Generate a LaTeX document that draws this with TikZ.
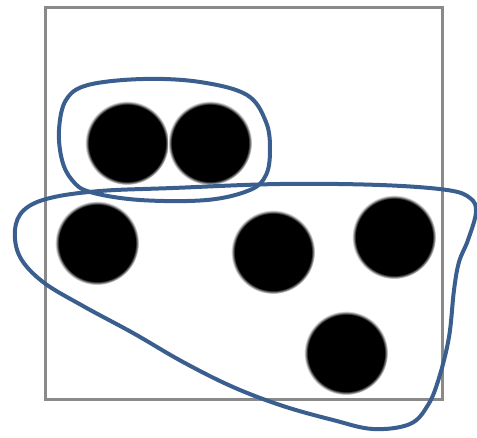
\documentclass[tikz,border=0pt]{standalone}
\usetikzlibrary{shadings}
\pgfdeclareradialshading{blurdot}{\pgfpoint{0bp}{0bp}}{color(0bp)=(black); color(22.8bp)=(black); color(25bp)=(white); color(50bp)=(white)}
\definecolor{loopblue}{HTML}{3A5F8E}
\definecolor{framegray}{HTML}{8A8A8A}
\tikzset{
  dot/.style={shading=blurdot},
  frame/.style={draw=framegray, line width=3pt},
  loopline/.style={draw=loopblue, line width=4pt, line join=round}
}
\begin{document}
\begin{tikzpicture}[x=1pt,y=-1pt]
\useasboundingbox (0,0) rectangle (477,438);
% frame
\draw[frame] (45.5,7.5) rectangle (442.5,400);
% dots
\foreach \cx/\cy in {127/143, 210/143, 97/243, 273/252, 394/237, 346/353}
  \shade[dot] (\cx,\cy) circle (42);
% small loop
\draw[loopline] plot[smooth cycle, tension=0.6] coordinates {
 (143,79) (200,82) (247,95) (266,122) (270,150) (266,175) (250,190)
 (207,200) (140,200) (90,192) (72,180) (62,160) (59,130) (66,100) (88,85)};
% big loop
\draw[loopline] plot[smooth cycle, tension=0.6] coordinates {
 (100,191) (173,188) (280,184) (380,185) (447,190) (470,198) (476,212)
 (468,240) (459,262) (454,290) (449,337) (439,378) (428,405) (410,424)
 (373,429) (333,420) (283,406) (233,387) (183,362) (133,333) (83,306)
 (43,282) (20,257) (15,230) (24,210) (50,198)};
\end{tikzpicture}
\end{document}
